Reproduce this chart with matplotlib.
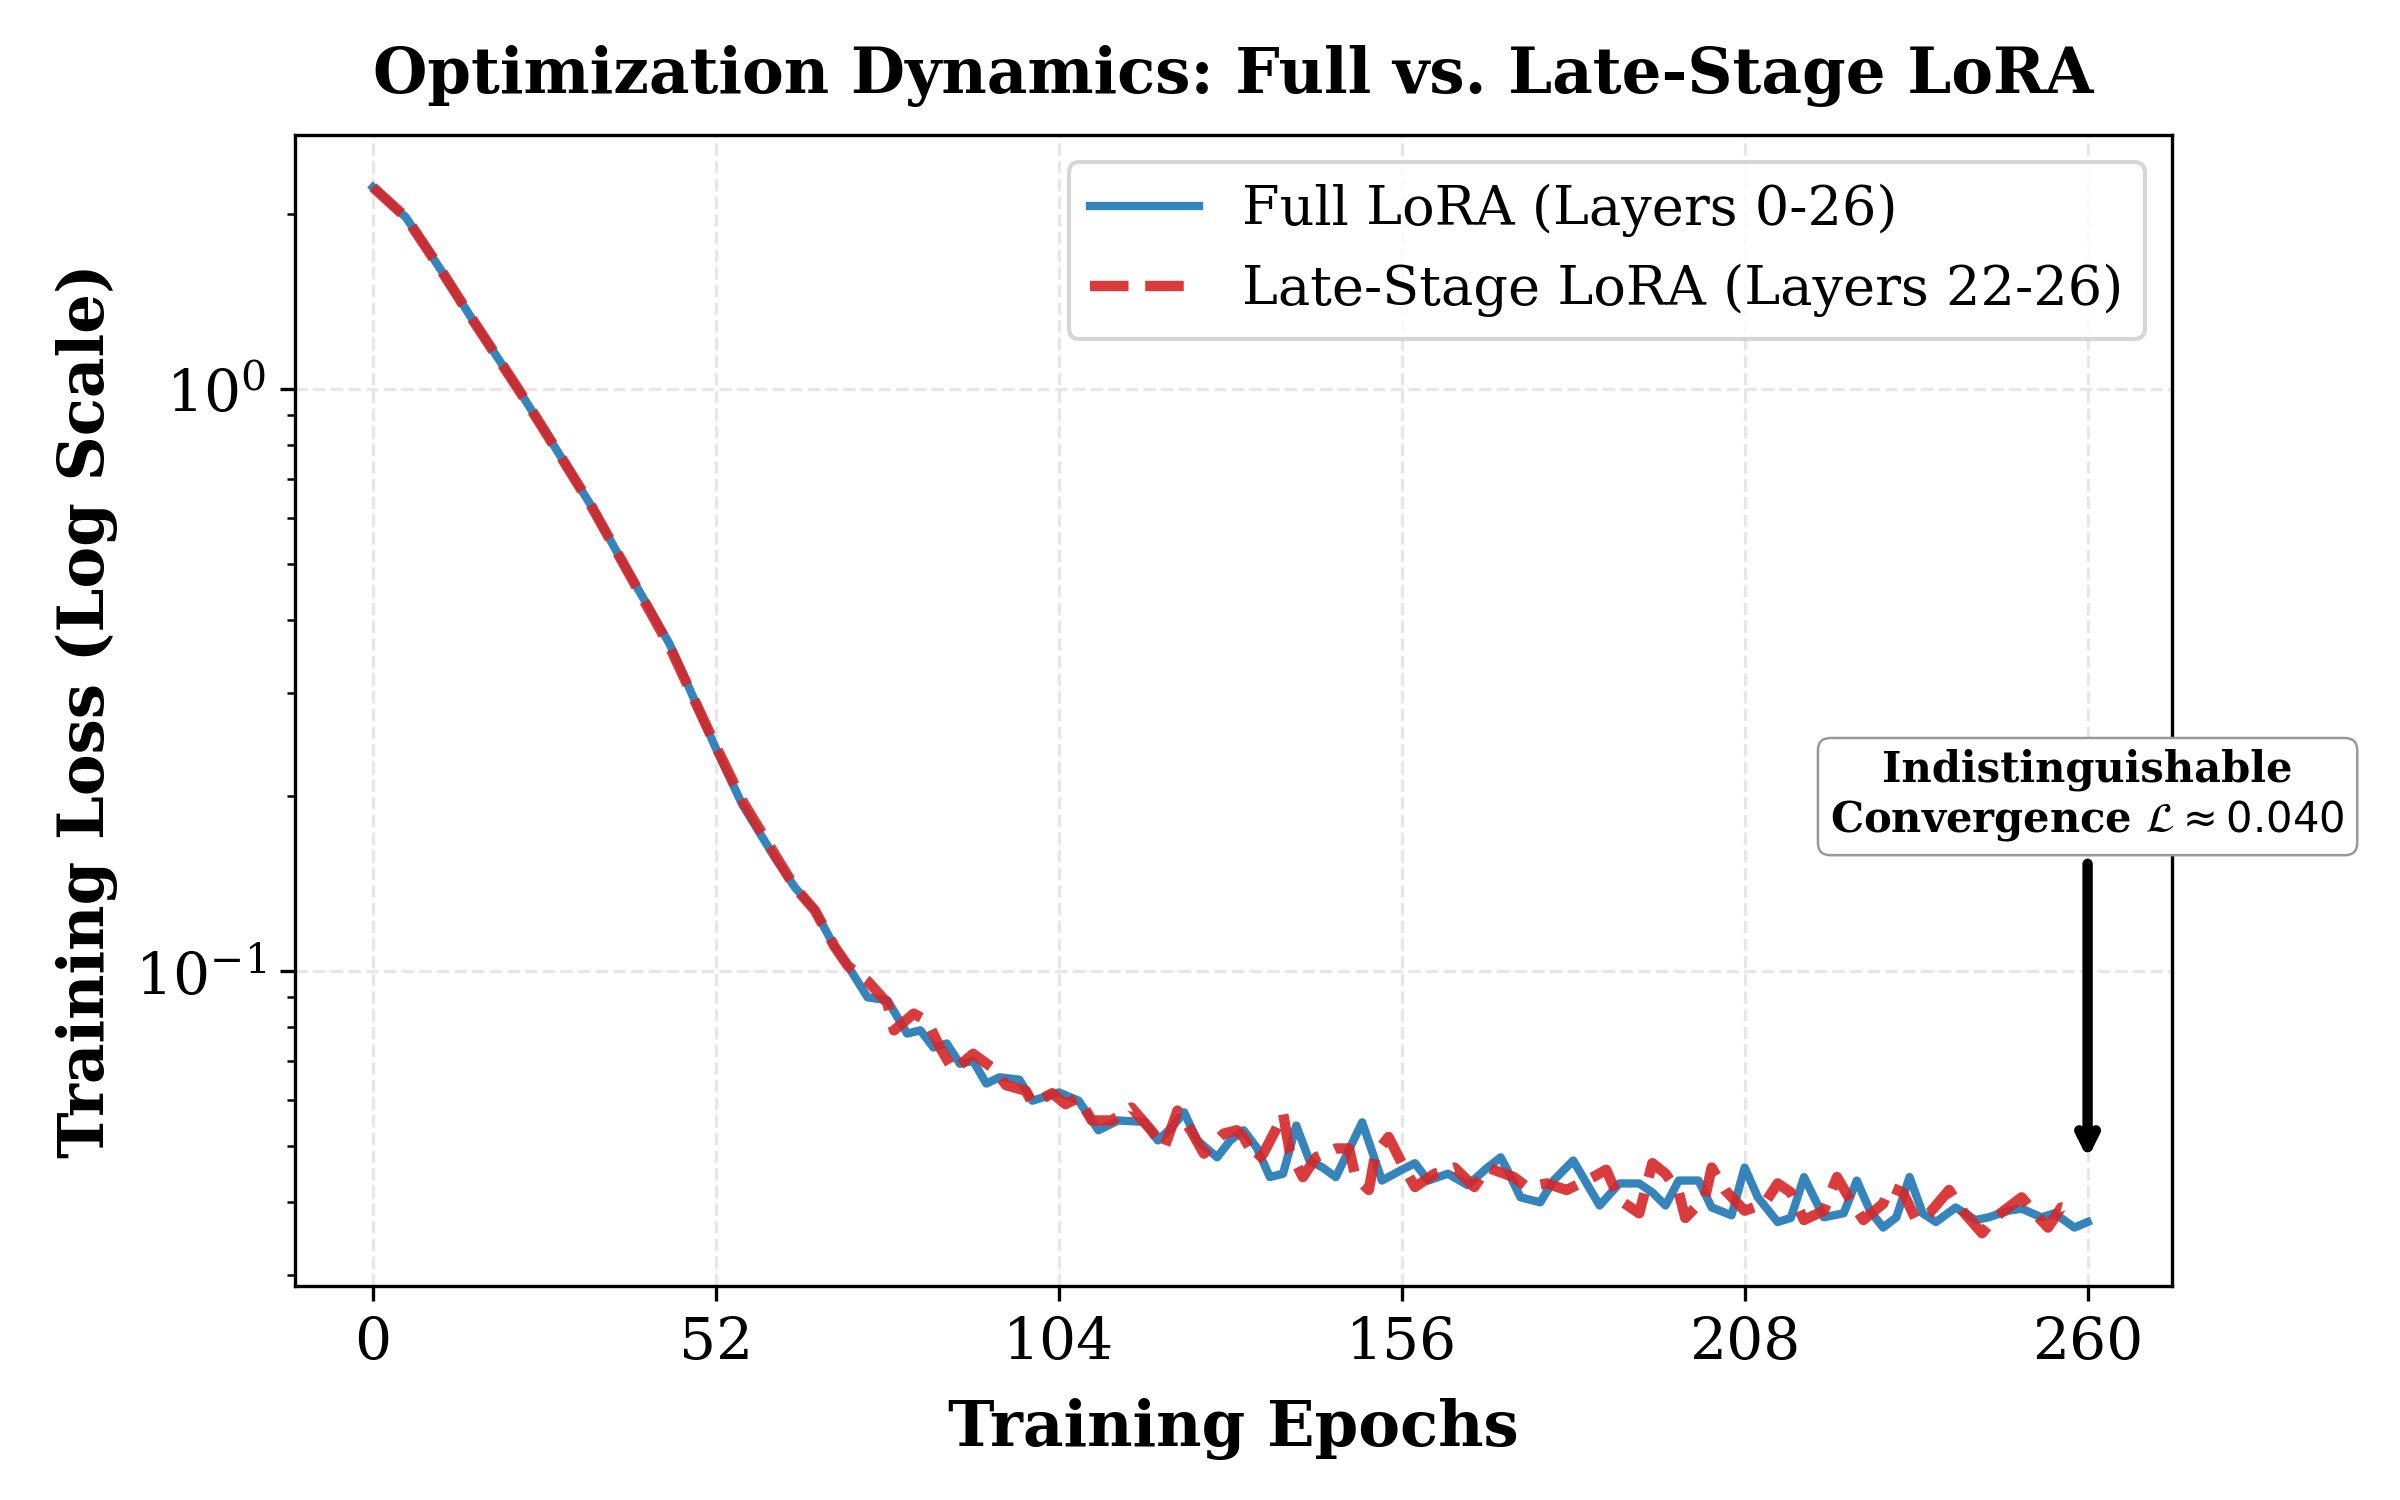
"""
Training loss curves: full LoRA vs. late-stage LoRA (log scale).
"""
from matplotlib import pyplot as plt
import numpy as np

plt.rcParams['font.family'] = 'serif'

# values
full_epochs = [0, 5, 10, 15, 22, 28, 33, 38, 45, 52, 56, 61, 64, 67, 70, 72, 75, 78, 81, 83,
               85, 87, 89, 91, 93, 95, 98, 100, 104, 107, 110, 113, 117, 119, 121, 123, 125,
               128, 130, 132, 134, 136, 138, 140, 142, 144, 146, 150, 153, 156, 158, 160, 163,
               166, 169, 171, 172, 174, 177, 179, 182, 186, 189, 192, 194, 196, 198, 201, 203,
               206, 208, 210, 213, 215, 217, 220, 223, 225, 227, 229, 231, 233, 235, 237, 240,
               243, 245, 248, 250, 253, 255, 258, 260]
full_loss = [2.22, 1.97, 1.62, 1.32, 1.0, 0.78, 0.632, 0.50, 0.364, 0.241, 0.193, 0.156, 0.139,
             0.127, 0.110, 0.102, 0.090, 0.089, 0.078, 0.079, 0.0738, 0.075, 0.0692, 0.070,
             0.064, 0.0656, 0.065, 0.0598, 0.0618, 0.0598, 0.0532, 0.0553, 0.055, 0.0511,
             0.0536, 0.0571, 0.0511, 0.0478, 0.0511, 0.0532, 0.0497, 0.0442, 0.0448, 0.0542,
             0.0472, 0.0459, 0.0442, 0.0549, 0.0436, 0.0455, 0.0467, 0.0436, 0.0448, 0.0428,
             0.0459, 0.0478, 0.0455, 0.0408, 0.040, 0.0436, 0.0472, 0.0395, 0.0431, 0.0431,
             0.0416, 0.0395, 0.0436, 0.0436, 0.0392, 0.038, 0.0459, 0.0408, 0.037, 0.0376,
             0.0442, 0.0377, 0.0383, 0.0436, 0.0387, 0.0362, 0.0377, 0.0442, 0.0383, 0.037,
             0.0392, 0.0373, 0.0377, 0.0387, 0.039, 0.0377, 0.0383, 0.0362, 0.037]

late_epochs = [0, 5, 10, 15, 22, 28, 33, 38, 45, 52, 56, 61, 64, 67, 70, 72, 75, 78, 79, 82,
               84, 86, 88, 91, 94, 96, 99, 100, 103, 105, 107, 109, 112, 115, 118, 120, 122,
               124, 126, 129, 131, 132, 134, 135, 137, 138, 139, 141, 143, 146, 148, 149, 151,
               152, 154, 156, 158, 161, 164, 167, 169, 173, 175, 178, 181, 185, 187, 189, 192,
               194, 196, 198, 199, 202, 203, 205, 208, 211, 213, 215, 217, 220, 222, 224, 226,
               229, 230, 232, 234, 236, 239, 241, 244, 246, 250, 252, 254, 256, 258]
late_loss = [2.22, 1.97, 1.62, 1.32, 1.0, 0.78, 0.632, 0.50, 0.36, 0.243, 0.196, 0.158, 0.139,
             0.127, 0.110, 0.102, 0.096, 0.088, 0.079, 0.0844, 0.082, 0.0738, 0.0674, 0.072,
             0.068, 0.0636, 0.0622, 0.0591, 0.0616, 0.059, 0.0605, 0.0553, 0.0553, 0.0582,
             0.0532, 0.0497, 0.0575, 0.0532, 0.0485, 0.0525, 0.0532, 0.0518, 0.0472, 0.0485,
             0.0536, 0.0569, 0.049, 0.0442, 0.0478, 0.0495, 0.0495, 0.0442, 0.042, 0.0485,
             0.0518, 0.0467, 0.0425, 0.0448, 0.0459, 0.0425, 0.0459, 0.0442, 0.0425, 0.0431,
             0.042, 0.0442, 0.0455, 0.0404, 0.0383, 0.0467, 0.0448, 0.0416, 0.0376, 0.0408,
             0.0459, 0.042, 0.0387, 0.0398, 0.0431, 0.0416, 0.0373, 0.0387, 0.0442, 0.0404,
             0.0373, 0.0398, 0.0425, 0.0416, 0.0373, 0.0383, 0.042, 0.0387, 0.0354, 0.0377,
             0.0408, 0.0383, 0.0362, 0.0392, 0.0387]

x_ticks = [0, 52, 104, 156, 208, 260]

fig, ax = plt.subplots(figsize=(8, 5), dpi=300)
fig.subplots_adjust(left=0.123, right=0.905, top=0.91, bottom=0.143)

ax.plot(full_epochs, full_loss, color='#1f77b4', lw=2, alpha=0.9,
        label='Full LoRA (Layers 0-26)')
ax.plot(late_epochs, late_loss, color='#d62728', lw=2.5, ls='--', alpha=0.9,
        label='Late-Stage LoRA (Layers 22-26)')
ax.set_yscale('log')
ax.set_xlim(-11.8, 272.8)

ax.set_xticks(x_ticks)
ax.tick_params(axis='both', which='major', labelsize=14)
ax.set_xlabel('Training Epochs', fontsize=15, fontweight='bold', labelpad=6.5)
ax.set_ylabel('Training Loss (Log Scale)', fontsize=15, fontweight='bold')
ax.set_title('Optimization Dynamics: Full vs. Late-Stage LoRA', fontsize=15,
             fontweight='bold', pad=10)
ax.grid(True, which='major', ls='--', color='#dddddd', alpha=0.7)

# annotation
ax.annotate('Indistinguishable\nConvergence $\\mathcal{L} \\approx 0.040$',
            xy=(260, 0.046), xytext=(260, 0.2), ha='center', va='center',
            fontsize=10, fontweight='bold',
            bbox=dict(boxstyle='round,pad=0.3', fc='white', ec='#999999', lw=0.6),
            arrowprops=dict(arrowstyle='->', color='black', lw=2.5))

ax.legend(loc='upper right', fontsize=13)

fig.savefig('out.png', dpi=300)
